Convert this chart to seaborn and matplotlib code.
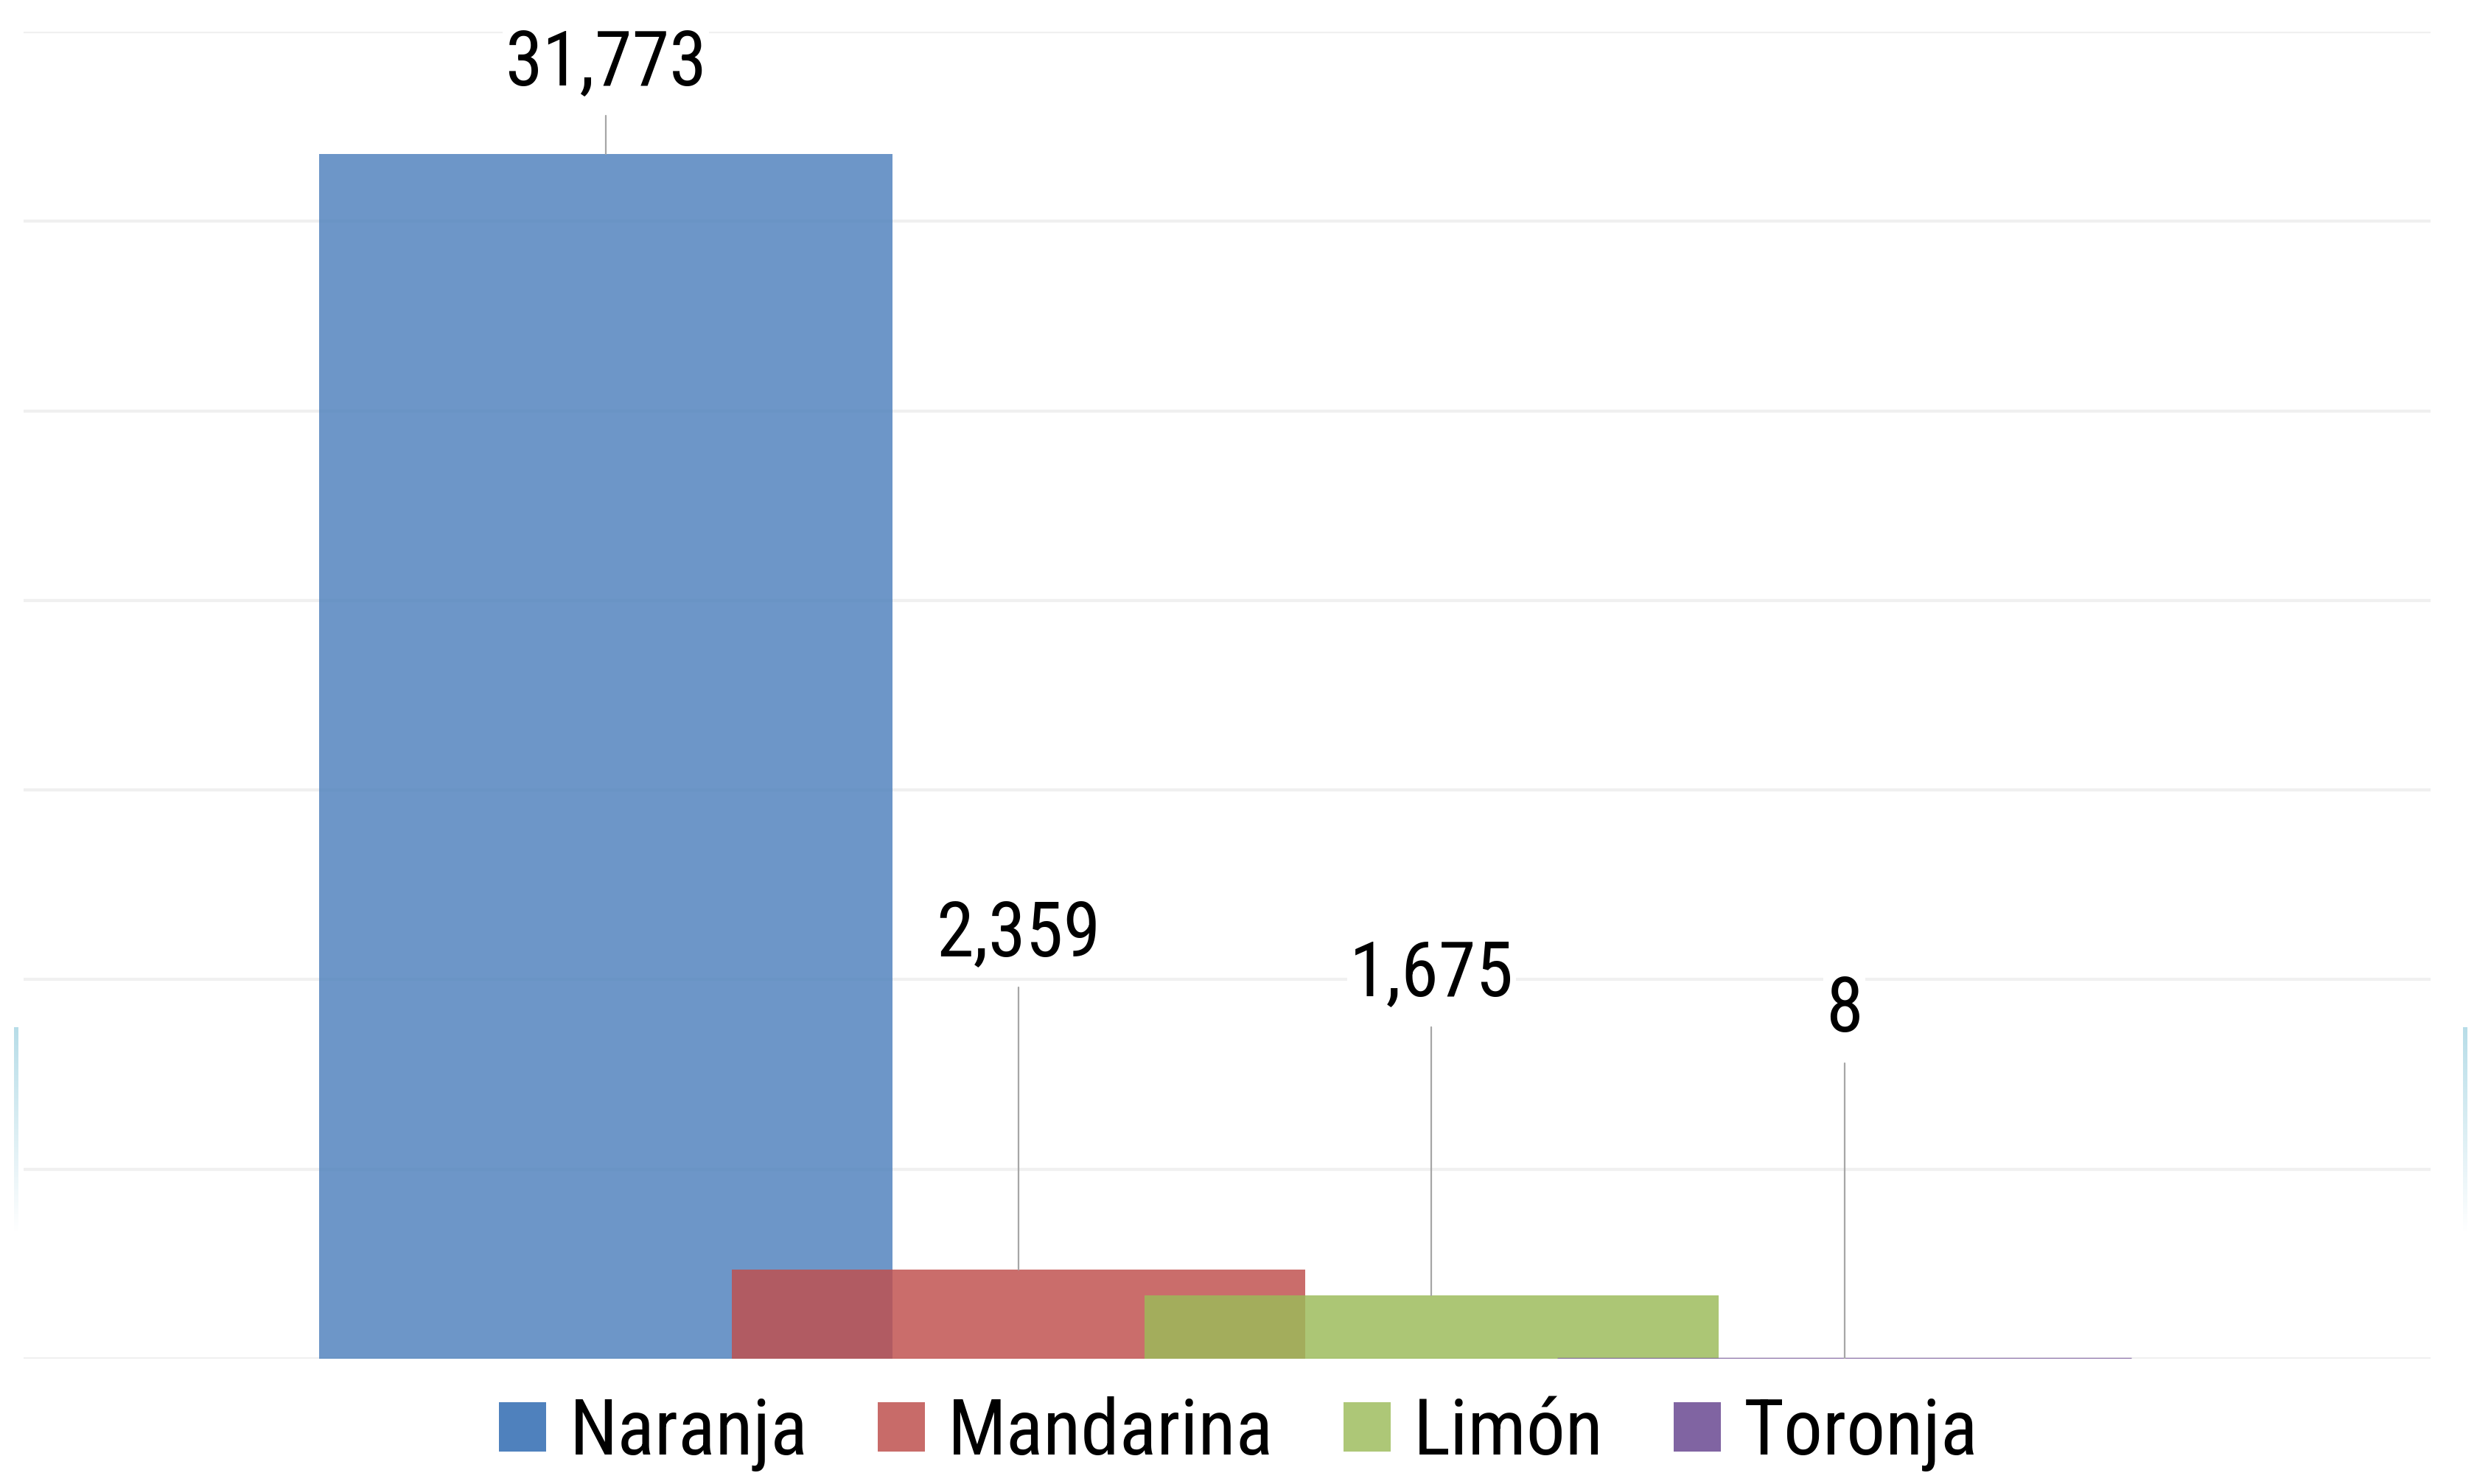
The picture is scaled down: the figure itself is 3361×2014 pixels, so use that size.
import numpy as np
import pandas as pd
import seaborn as sns
import matplotlib.pyplot as plt
from matplotlib.patches import Patch
from matplotlib.colors import LinearSegmentedColormap

# data
frutas = ['Naranja', 'Mandarina', 'Limón', 'Toronja']
valores = [31773, 2359, 1675, 8]
etiquetas = ['31,773', '2,359', '1,675', '8']

bar_colors = ['#4f81bd', '#c0504d', '#9bbb59', '#8064a2']
legend_colors = ['#4f81bd', '#c86b69', '#adc777', '#8064a2']

df = pd.DataFrame({'fruta': frutas, 'valor': valores})

sns.set_style('white')
plt.rcParams['font.family'] = ['Liberation Sans Narrow', 'Roboto Condensed', 'DejaVu Sans']
plt.rcParams['text.color'] = 'black'

fig = plt.figure(figsize=(33.62, 20.14), dpi=100)
ax = fig.add_axes([0.0095, 0.0844, 0.9715, 0.8942])

# light grid every 5000
for g in range(0, 35001, 5000):
    ax.axhline(g, color='#f0f0f0', lw=3, zorder=0)

sns.barplot(data=df, x='fruta', y='valor', hue='fruta', palette=bar_colors,
            width=1.39, alpha=0.83, saturation=1, linewidth=0, dodge=False,
            legend=False, ax=ax, zorder=2)

# the Toronja bar is only a thin line at the base
ax.patches[3].set_edgecolor('#8064a2')
ax.patches[3].set_linewidth(2.5)

ax.set_xlim(-1.41, 4.42)
ax.set_ylim(0, 35000)
ax.set_xticks([])
ax.set_yticks([])
ax.set_xlabel('')
ax.set_ylabel('')
sns.despine(ax=ax, left=True, bottom=True)

# labels with leader lines (positions dragged by hand in the original)
label_y = [34150, 11180, 10130, 9180]
line_top = [32790, 9800, 8750, 7800]
for i, (v, t) in enumerate(zip(valores, etiquetas)):
    ax.plot([i, i], [v, line_top[i]], color='#a6a6a6', lw=1.6, zorder=3)
    ax.text(i, label_y[i], t, ha='center', va='center', fontsize=74,
            color='black', zorder=4,
            bbox=dict(facecolor='white', edgecolor='none', pad=2))

# decorative gradient strips at the sides
grad = np.linspace(1, 0, 256).reshape(-1, 1)
cm = LinearSegmentedColormap.from_list('strip', ['#ffffff', '#b7dde8'])
for xpos in [19 / 3362, 3342 / 3362]:
    sax = fig.add_axes([xpos, 1 - 1672 / 2014, 6 / 3362, 278 / 2014])
    sax.imshow(grad, aspect='auto', cmap=cm, vmin=0, vmax=1)
    sax.axis('off')

handles = [Patch(facecolor=c, edgecolor='none') for c in legend_colors]
fig.legend(handles, frutas, loc='center', bbox_to_anchor=(0.5, 0.034), ncol=4,
           frameon=False, fontsize=76, handlelength=0.6, handleheight=0.6,
           handletextpad=0.3, columnspacing=0.9, labelcolor='black')

fig.savefig('out.png', dpi=100, facecolor='white')
